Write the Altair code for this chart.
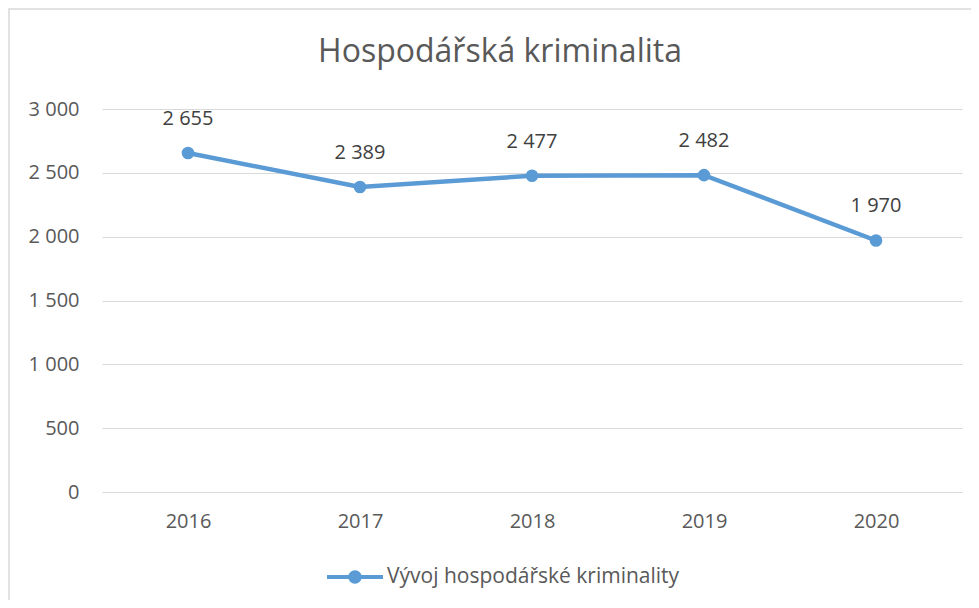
import altair as alt
import pandas as pd

years = ["2016", "2017", "2018", "2019", "2020"]
values = [2655, 2389, 2477, 2482, 1970]
series_name = "Vývoj hospodářské kriminality"
y_ticks = [0, 500, 1000, 1500, 2000, 2500, 3000]

df = pd.DataFrame({"rok": years, "hodnota": values, "serie": [series_name] * len(years)})

FONT = "Open Sans"
BLUE = "#5B9BD5"
W, H = 860, 383

x_enc = alt.X("rok:O", title=None, sort=years,
              scale=alt.Scale(type="point", padding=0.5),
              axis=alt.Axis(labelAngle=0, labelFontSize=20, labelColor="#595959",
                            labelFont=FONT, ticks=False, domain=False, labelPadding=19))
y_enc = alt.Y("hodnota:Q", title=None,
              scale=alt.Scale(domain=[0, 3000], nice=False),
              axis=alt.Axis(values=y_ticks, labelFontSize=20, labelColor="#595959",
                            labelFont=FONT, ticks=False, domain=False, labelPadding=23,
                            gridColor="#d9d9d9", gridWidth=1.2,
                            labelExpr="replace(format(datum.value, ','), ',', ' ')"))

base = alt.Chart(df)

line = base.mark_line(color=BLUE, strokeWidth=4.5).encode(x=x_enc, y=y_enc)

legend_path = ("M -1 -0.075 L 1 -0.075 L 1 0.075 L -1 0.075 Z "
               "M 0.24 0 A 0.24 0.24 0 1 1 -0.24 0 A 0.24 0.24 0 1 1 0.24 0 Z")

points = base.mark_circle(size=160, opacity=1).encode(
    x=x_enc, y=y_enc,
    color=alt.Color("serie:N", title=None,
                    scale=alt.Scale(domain=[series_name], range=[BLUE]),
                    legend=alt.Legend(orient="none", legendX=225, legendY=440,
                                      symbolType=legend_path, symbolSize=3136,
                                      symbolStrokeWidth=0, symbolOpacity=1,
                                      labelFontSize=21, labelColor="#595959",
                                      labelFont=FONT, labelOffset=4, labelLimit=500)),
)

labels = base.transform_calculate(
    lbl="replace(format(datum.hodnota, ','), ',', ' ')"
).mark_text(dy=-34, fontSize=20, font=FONT, color="#404040", baseline="middle").encode(
    x=x_enc, y=y_enc, text="lbl:N"
)

frame = base.mark_rect(fill=None, stroke="#d9d9d9", strokeWidth=1.5).encode(
    x=alt.value(-93), x2=alt.value(W + 60), y=alt.value(-100), y2=alt.value(H + 150)
).transform_filter("datum.rok == '2016'")

chart = alt.layer(frame, line, points, labels).properties(
    width=W, height=H,
    padding={"left": 94, "top": 101, "right": 9, "bottom": 108},
    autosize=alt.AutoSizeParams(type="none"),
    title=alt.TitleParams("Hospodářská kriminalita", fontSize=32, font=FONT,
                          fontWeight="normal", color="#595959", anchor="middle",
                          dx=-32, offset=-61),
).configure_view(stroke=None)

chart.save("out.html", embed_options={"renderer": "svg", "actions": False})
